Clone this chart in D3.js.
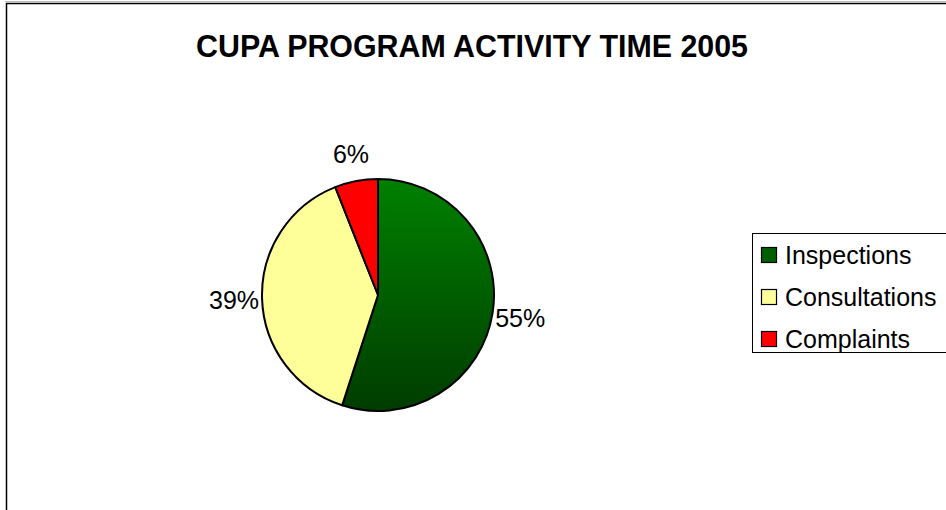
<!DOCTYPE html>
<meta charset="utf-8">
<head>
<style>
  body { margin: 0; background: #fff; }
  svg { font-family: 'Liberation Sans', Arial, sans-serif; display: block; }
</style>
</head>
<body>
<svg width="946" height="510"></svg>
<script src="https://d3js.org/d3.v7.min.js"></script>
<script>
// chart data
var categories = ["Inspections", "Consultations", "Complaints"];
var values = [55, 39, 6];
var labels = ["55%", "39%", "6%"];
var title = "CUPA PROGRAM ACTIVITY TIME 2005";

var svg = d3.select("svg"),
    width = +svg.attr("width"),
    height = +svg.attr("height");

// outer chart frame (runs off the right / bottom edge)
svg.append("line").attr("x1", 5).attr("x2", width).attr("y1", 1.5).attr("y2", 1.5)
  .style("stroke", "#bbb").style("stroke-width", 1);
svg.append("rect")
  .attr("x", 6.5).attr("y", 3.5)
  .attr("width", width + 10).attr("height", height + 10)
  .style("fill", "none").style("stroke", "#000").style("stroke-width", 1.5);

svg.append("text")
  .attr("x", 472).attr("y", 57)
  .attr("text-anchor", "middle")
  .attr("textLength", 552)
  .attr("lengthAdjust", "spacingAndGlyphs")
  .style("font-size", "32px")
  .style("font-weight", "bold")
  .text(title);

var defs = svg.append("defs");
var grad = defs.append("linearGradient")
  .attr("id", "greenGrad")
  .attr("gradientUnits", "userSpaceOnUse")
  .attr("x1", 0).attr("y1", -116).attr("x2", 0).attr("y2", 116);
grad.append("stop").attr("offset", "0%").attr("stop-color", "#008000");
grad.append("stop").attr("offset", "100%").attr("stop-color", "#003c00");

var color = d3.scaleOrdinal()
  .domain(categories)
  .range(["url(#greenGrad)", "#FFFF99", "#FF0000"]);
var swatch = d3.scaleOrdinal()
  .domain(categories)
  .range(["#006000", "#FFFF99", "#FF0000"]);

var cx = 378, cy = 295, r = 116;

var pie = d3.pie().sort(null).value(d => d.value);
var arc = d3.arc().innerRadius(0).outerRadius(r);

var data = categories.map((c, i) => ({ name: c, value: values[i], label: labels[i] }));
var arcs = pie(data);

var g = svg.append("g").attr("transform", "translate(" + cx + "," + cy + ")");

g.selectAll("path")
  .data(arcs)
  .enter().append("path")
  .attr("d", arc)
  .style("fill", d => color(d.data.name))
  .style("stroke", "#000")
  .style("stroke-width", 2)
  .style("stroke-linejoin", "round");

// percent labels outside the slices
var labelArc = d3.arc().innerRadius(r + 28).outerRadius(r + 28);
g.selectAll(".pct")
  .data(arcs)
  .enter().append("text")
  .attr("class", "pct")
  .attr("transform", d => {
    var p = labelArc.centroid(d);
    return "translate(" + p[0] + "," + p[1] + ")";
  })
  .attr("dy", "0.36em")
  .attr("text-anchor", "middle")
  .style("font-size", "25px")
  .text(d => d.data.label);

// legend
var legend = svg.append("g").attr("transform", "translate(752,233)");
legend.append("rect")
  .attr("x", 0.5).attr("y", 0.5)
  .attr("width", 300).attr("height", 119)
  .style("fill", "#fff").style("stroke", "#000").style("stroke-width", 1);

var item = legend.selectAll(".item")
  .data(categories)
  .enter().append("g")
  .attr("class", "item")
  .attr("transform", (d, i) => "translate(0," + (22 + i * 42) + ")");

item.append("rect")
  .attr("x", 9.5).attr("y", -7.5)
  .attr("width", 15).attr("height", 15)
  .style("fill", d => swatch(d))
  .style("stroke", "#000").style("stroke-width", 1.2);

item.append("text")
  .attr("x", 33).attr("y", 0)
  .attr("dy", "0.36em")
  .style("font-size", "25px")
  .text(d => d);
</script>
</body>
